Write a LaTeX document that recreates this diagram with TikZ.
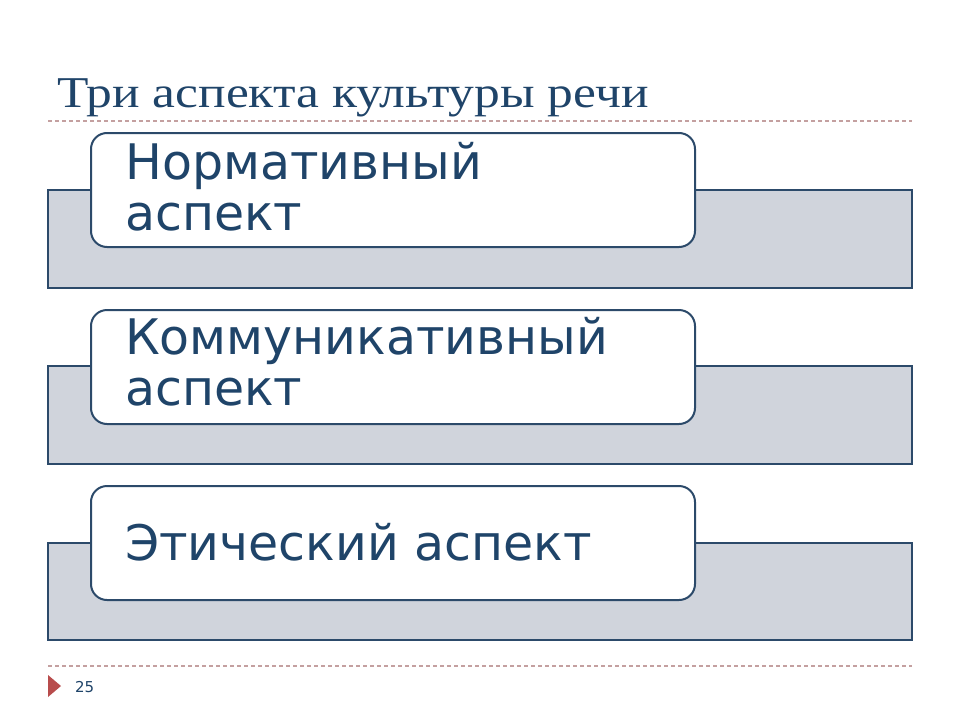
\documentclass[tikz,border=0pt]{standalone}
\usepackage{fontspec}
\setmainfont{DejaVu Sans}
\newfontfamily\titlefont[FakeStretch=1.17]{Liberation Serif}
\usetikzlibrary{calc}
\definecolor{navy}{HTML}{1F4469}
\definecolor{edge}{HTML}{2C4A6A}
\definecolor{slab}{HTML}{D0D4DC}
\definecolor{dashc}{HTML}{C4A0A0}
\definecolor{tri}{HTML}{B84C4C}
\tikzset{
  x=1pt,y=-1pt,
  slabbox/.style={draw=edge,fill=slab,line width=2pt},
  cardbox/.style={draw=edge,fill=white,line width=2pt,rounded corners=16pt},
  cardtext/.style={anchor=base west,text=navy,align=left,inner sep=0pt,font=\fontsize{49}{51}\selectfont},
  rule/.style={draw=dashc,line width=1.2pt,dash pattern=on 4pt off 3pt},
}
\begin{document}
\begin{tikzpicture}
\useasboundingbox (0,0) rectangle (960,720);
\node[anchor=base west,text=navy,inner sep=0pt,font=\titlefont\fontsize{44}{50}\selectfont] (title) at (57,107) {Три аспекта культуры речи};
\coordinate (r1a) at (48,121); \coordinate (r1b) at (912,121);
\draw[rule] (r1a) -- (r1b);
\coordinate (r2a) at (48,666); \coordinate (r2b) at (912,666);
\draw[rule] (r2a) -- (r2b);
% slabs
\path[slabbox] (48,190) rectangle (912,288) node (s1) {};
\path[slabbox] (48,366) rectangle (912,464) node (s2) {};
\path[slabbox] (48,543) rectangle (912,640) node (s3) {};
% cards
\path[cardbox] (91,133) rectangle (695,247) node (c1) {};
\path[cardbox] (91,310) rectangle (695,424) node (c2) {};
\path[cardbox] (91,486) rectangle (695,600) node (c3) {};
\node[cardtext] (t1) at (125,230) {Нормативный\\аспект};
\node[cardtext] (t2) at (125,405) {Коммуникативный\\аспект};
\node[cardtext] (t3) at (125,560) {Этический аспект};
% footer
\fill[tri] (48,675) -- (61,686) -- (48,697) -- cycle;
\node[anchor=base west,text=navy,inner sep=0pt,font=\fontsize{15}{17}\selectfont] (num) at (75,692) {25};
\end{tikzpicture}
\end{document}
